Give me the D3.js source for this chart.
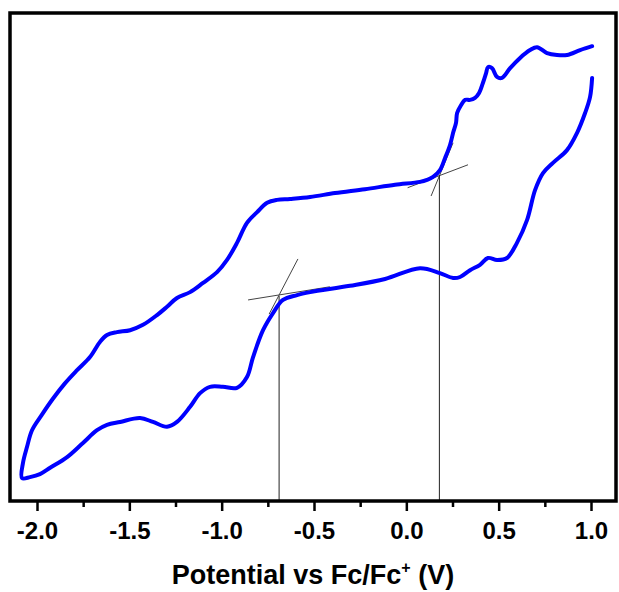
<!DOCTYPE html>
<html>
<head>
<meta charset="utf-8">
<script src="https://cdn.jsdelivr.net/npm/d3@7"></script>
<style>
  html, body { margin: 0; padding: 0; background: #fff; }
  svg { display: block; }
  .axis text { font-family: "Liberation Sans", Arial, sans-serif; font-weight: bold; font-size: 24px; fill: #000; }
  .title { font-family: "Liberation Sans", Arial, sans-serif; font-weight: bold; font-size: 27px; fill: #000; }
</style>
</head>
<body>
<svg id="chart" width="619" height="592"></svg>
<script>
// Cyclic voltammogram: potential (V vs Fc/Fc+) and current (arbitrary units), in scan order
const potential = [
  1.006, 0.941, 0.870, 0.816, 0.762, 0.708, 0.670, 0.616, 0.562, 0.518,
  0.491, 0.464, 0.442, 0.432, 0.415, 0.394, 0.372, 0.345, 0.318, 0.296,
  0.275, 0.269, 0.253, 0.237, 0.210, 0.182, 0.145, 0.112, 0.074, -0.061,
  -0.224, -0.386, -0.521, -0.630, -0.700, -0.754, -0.808, -0.863, -0.917, -0.971,
  -1.025, -1.101, -1.171, -1.242, -1.296, -1.350, -1.426, -1.496, -1.567, -1.621,
  -1.659, -1.713, -1.783, -1.851, -1.915, -1.975, -2.027, -2.054, -2.076, -2.081,
  -2.038, -1.984, -1.929, -1.837, -1.751, -1.675, -1.621, -1.550, -1.442, -1.372,
  -1.296, -1.242, -1.171, -1.117, -1.063, -0.993, -0.917, -0.863, -0.830, -0.776,
  -0.722, -0.668, -0.592, -0.521, -0.305, -0.115, 0.074, 0.182, 0.253, 0.291,
  0.345, 0.399, 0.442, 0.491, 0.545, 0.599, 0.654, 0.697, 0.740, 0.794,
  0.870, 0.924, 0.968, 0.995, 1.006
];
const current = [
  93.2, 92.4, 91.4, 91.4, 91.8, 93.0, 92.4, 90.8, 88.7, 86.7,
  86.9, 88.7, 88.9, 87.7, 85.7, 83.6, 82.6, 82.2, 82.2, 81.1,
  79.5, 77.5, 75.4, 73.0, 70.3, 67.8, 66.4, 65.8, 65.4, 64.8,
  63.9, 63.1, 62.3, 61.9, 61.7, 61.1, 59.2, 57.0, 52.9, 49.4,
  46.9, 44.7, 42.8, 41.6, 39.8, 38.1, 36.1, 35.0, 34.6, 34.0,
  32.6, 29.5, 26.8, 24.0, 20.9, 17.6, 14.5, 11.1, 7.8, 4.7,
  4.9, 5.5, 6.8, 9.0, 11.9, 14.5, 15.6, 16.2, 17.0, 16.2,
  15.2, 16.2, 19.3, 22.1, 23.4, 23.4, 23.2, 25.4, 29.5, 35.0,
  38.5, 41.2, 42.2, 42.8, 44.1, 45.5, 47.7, 46.7, 45.7, 45.9,
  47.3, 48.4, 49.8, 49.4, 49.8, 52.9, 57.6, 63.7, 67.2, 69.3,
  71.9, 75.4, 79.5, 82.8, 86.7
];

// Onset construction: tangent segments [[V1, I1], [V2, I2]] and onset potentials
const tangentLines = [
  [[-0.857, 41.2], [-0.414, 43.9]],
  [[-0.743, 38.3], [-0.587, 49.6]],
  [[0.007, 64.2], [0.334, 68.9]],
  [[0.134, 62.5], [0.253, 73.4]]
];
const onsetPotentials = [-0.689, 0.179];
const onsetCurrents = [42.0, 66.8];

const majorTicks = [-2.0, -1.5, -1.0, -0.5, 0.0, 0.5, 1.0];
const minorTicks = [-1.75, -1.25, -0.75, -0.25, 0.25, 0.75];
const xTitle = "Potential vs Fc/Fc";

const svg = d3.select("#chart");
const frame = { left: 10, top: 13, right: 616, bottom: 501 };

const x = d3.scaleLinear().domain([-2.0, 1.0]).range([37, 591]);
const y = d3.scaleLinear().domain([0, 100]).range([frame.bottom, frame.top]);

// Minor ticks
const minorAxis = d3.axisBottom(x).tickValues(minorTicks).tickSize(6).tickFormat("");
const gMinor = svg.append("g").attr("class", "axis")
  .attr("transform", `translate(0,${frame.bottom})`).call(minorAxis);
gMinor.select(".domain").remove();
gMinor.selectAll("line").attr("stroke", "#000").attr("stroke-width", 2.5);

// Major ticks and labels
const majorAxis = d3.axisBottom(x).tickValues(majorTicks).tickSize(10).tickPadding(11)
  .tickFormat(d3.format(".1f"));
const gMajor = svg.append("g").attr("class", "axis")
  .attr("transform", `translate(0,${frame.bottom})`).call(majorAxis);
gMajor.select(".domain").remove();
gMajor.selectAll("line").attr("stroke", "#000").attr("stroke-width", 2.5);
gMajor.selectAll("text").text(d => d3.format(".1f")(d).replace("−", "-"));

// Onset construction lines
const lineGen = d3.line().x(d => x(d[0])).y(d => y(d[1]));
svg.append("g").selectAll("path").data(tangentLines).join("path")
  .attr("d", lineGen).attr("fill", "none")
  .attr("stroke", "#444").attr("stroke-width", 1);
svg.append("g").selectAll("line").data(onsetPotentials).join("line")
  .attr("x1", d => x(d)).attr("x2", d => x(d))
  .attr("y1", (d, i) => y(onsetCurrents[i])).attr("y2", y(0))
  .attr("stroke", "#222").attr("stroke-width", 1);

// CV trace
const pts = potential.map((v, i) => [v, current[i]]);
svg.append("path")
  .datum(pts)
  .attr("d", d3.line().x(d => x(d[0])).y(d => y(d[1])).curve(d3.curveCatmullRom.alpha(0.5)))
  .attr("fill", "none")
  .attr("stroke", "#0000ff")
  .attr("stroke-width", 4)
  .attr("stroke-linejoin", "round")
  .attr("stroke-linecap", "round");

// Frame
svg.append("rect")
  .attr("x", frame.left).attr("y", frame.top)
  .attr("width", frame.right - frame.left).attr("height", frame.bottom - frame.top)
  .attr("fill", "none").attr("stroke", "#000").attr("stroke-width", 3.5);

// Axis title
const title = svg.append("text").attr("class", "title")
  .attr("x", (frame.left + frame.right) / 2).attr("y", 584)
  .attr("text-anchor", "middle");
title.append("tspan").text(xTitle);
title.append("tspan").text("+").attr("font-size", 16).attr("dy", -11);
title.append("tspan").text(" (V)").attr("dy", 11);
</script>
</body>
</html>
